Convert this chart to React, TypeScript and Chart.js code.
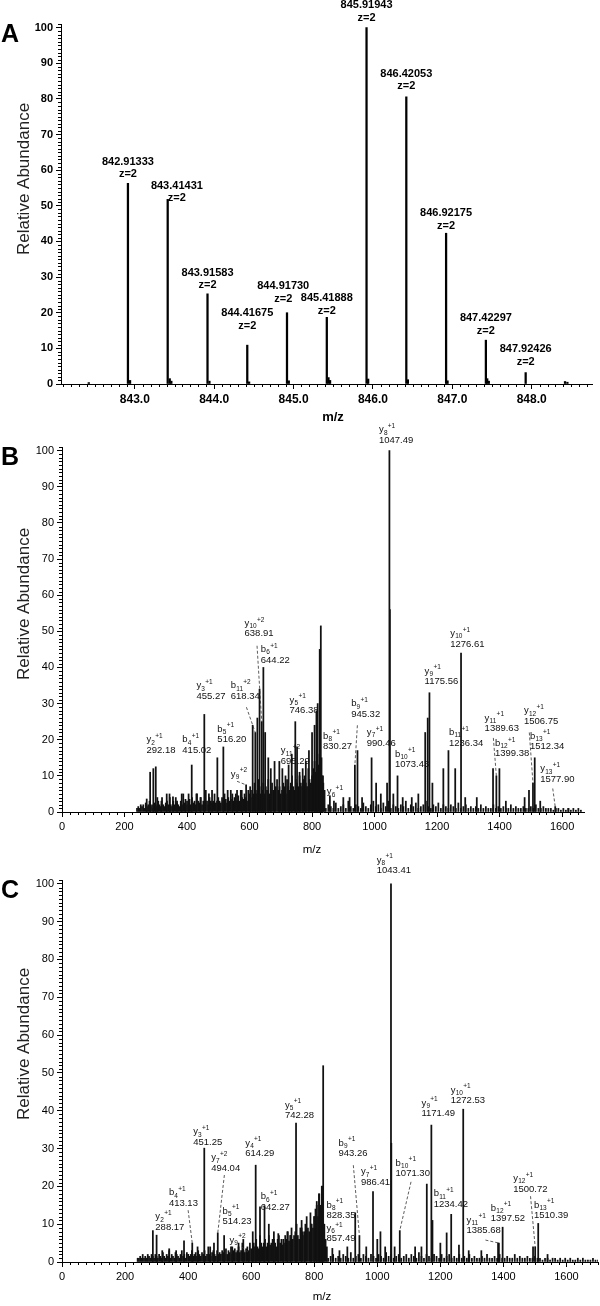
import React, { useEffect, useRef } from 'react';
import { Chart, registerables } from 'chart.js';

Chart.register(...registerables);

const W = 600;
const H = 1306;
const SANS = '"Liberation Sans", Arial, sans-serif';

// ================= Panel A : precursor isotope cluster =================
const A_PEAK_MZ = [842.91333, 843.41431, 843.91583, 844.41675, 844.9173, 845.41888, 845.91943, 846.42053, 846.92175, 847.42297, 847.92426];
const A_PEAK_ABUND = [56.3, 51.8, 25.3, 10.9, 20.0, 18.7, 100, 80.6, 42.3, 12.3, 3.2];
const A_CHARGE = 'z=2';
// label anchor (centre of first text line), in data units
const A_LABEL_MZ = [842.91333, 843.53, 843.91583, 844.41675, 844.87, 845.41888, 845.91943, 846.42053, 846.92175, 847.42297, 847.92426];
const A_LABEL_ABUND = [62.4, 55.6, 31.2, 19.9, 27.5, 24.0, 106.3, 87.0, 47.9, 18.5, 9.8];
const A_MINOR_MZ = [842.42, 842.94, 843.44, 843.46, 843.94, 844.44, 844.94, 845.44, 845.46, 845.94, 846.44, 846.94, 847.44, 847.46, 848.42, 848.45];
const A_MINOR_ABUND = [0.4, 1.0, 1.5, 0.8, 0.8, 0.6, 0.9, 1.8, 1.0, 1.4, 1.2, 0.9, 1.5, 0.8, 0.7, 0.5];
const A_X_TICKS = [843, 844, 845, 846, 847, 848];
const Y_TICKS = [0, 10, 20, 30, 40, 50, 60, 70, 80, 90, 100];
const SPEC_X_TICKS = [0, 200, 400, 600, 800, 1000, 1200, 1400, 1600];

// ================= Panel B : MS/MS spectrum =================
const B_PEAK_MZ = [271, 282, 292.18, 300, 305, 318, 335, 345, 355, 368, 383, 395, 405, 415.02, 430, 443, 455.27, 470, 480, 497, 516.2, 530, 545, 560, 575, 589, 602, 610, 618.34, 625, 632, 638.91, 644.22, 650, 660, 668, 680, 695.29, 705, 715, 725, 735, 746.38, 752, 760, 770, 780, 790, 800, 808, 814, 818, 824.5, 828, 830.27, 835, 857, 870, 900, 920, 937, 945.32, 960, 990.46, 1005, 1020, 1040, 1047.49, 1049, 1060, 1073.43, 1090, 1119, 1140, 1162, 1170, 1175.56, 1185, 1220, 1236.34, 1258, 1276.61, 1290, 1327, 1379, 1389.63, 1399.38, 1420, 1480, 1494, 1506.75, 1512.34, 1530, 1577.9, 1620];
const B_PEAK_ABUND = [3.6, 11, 12, 12.5, 4, 3, 5, 4, 4.2, 3, 5, 3.5, 5, 13, 5, 4, 27, 5, 6, 15, 18, 6, 5, 6, 6, 7.5, 7, 24, 22, 26, 34, 25, 40, 22, 15, 12, 14, 14, 12, 10, 13, 16, 25, 18, 10, 12, 14, 17, 22, 24, 28, 30, 45, 51.5, 15, 10, 4.5, 3, 4, 4, 13, 17, 4, 15, 8, 5, 8, 100, 56, 5, 10, 4, 4, 5, 22, 26, 33, 8, 12, 17, 12, 44, 4, 4, 12, 10, 12, 3, 4, 6, 8, 15, 3, 1.5, 1];
const B_NOISE_LOW_START = 240;
const B_NOISE_LOW_STEP = 4;
const B_NOISE_LOW = [
  1, 1.5, 1, 2, 1.5, 2, 1, 2.5, 1.5, 2, 3, 1.5, 2, 1, 2.5, 2,
  1.5, 3, 2, 1.5, 4, 2, 1.5, 2.5, 3, 2, 5, 2, 1.5, 3, 2, 4, 2.5, 2, 1.5, 3, 2, 5, 2.5, 2, 3,
  2, 3.5, 2, 4, 2.5, 3, 2, 5, 3, 2.5, 4, 2, 3, 2.5, 6, 3, 2, 4, 3, 2.5, 3, 5, 2.5, 3, 4,
  3, 2.5, 4, 3, 5, 3.5, 2.5, 4, 3, 6, 3.5, 3, 4, 5, 3, 4.5, 3, 6, 4, 3.5, 5, 4, 3, 6, 5,
  4, 6, 5, 8, 6, 5, 9, 7, 5, 6, 8, 5, 7, 6, 9, 5, 6, 8, 6, 5, 7, 9, 6, 7, 5,
  6, 8, 7, 5, 9, 7, 6, 8, 10, 7, 6, 9, 8, 7, 11, 8, 7, 9, 10, 8, 7, 12, 9, 8, 10,
  12, 14, 11, 15, 13, 16, 12, 10, 8, 6,
];
const B_NOISE_HIGH_START = 844;
const B_NOISE_HIGH_STEP = 8;
const B_NOISE_HIGH = [
  1, 2, 1.5, 1, 2.5, 1, 1.5, 2, 1, 3,
  1.5, 1, 2, 1.5, 1, 2.5, 1.5, 1, 2, 3,
  1.5, 2, 1, 2.5, 1.5, 3, 1, 2, 1.5, 1,
  2, 1.5, 3, 1, 2, 1.5, 2.5, 1, 1.5, 2,
  3, 1.5, 1, 2, 1.5, 2.5, 1, 2, 1.5, 1,
  2, 1.5, 1, 2.5, 1, 1.5, 2, 1, 1.5, 1,
  1.5, 1, 2, 1, 1.5, 1, 1, 2, 1, 1.5,
  1, 1.5, 1, 1, 2, 1, 1.5, 1, 1, 1.5,
  1, 1, 1.5, 1, 2, 1, 1, 1.5, 1, 1,
  1, 0.5, 1, 1, 0.5, 1, 0.5, 1, 0.5, 1,
  0.5, 1, 0.5,
];
const B_ION = ['y', 'b', 'y', 'b', 'y', 'b', 'y', 'b', 'y', 'y', 'b', 'y', 'b', 'y', 'y', 'b', 'y', 'b', 'y', 'y', 'b', 'y', 'b', 'y'];
const B_ION_SUB = ['2', '4', '3', '5', '9', '11', '10', '6', '11', '5', '8', '6', '9', '7', '8', '10', '9', '11', '10', '11', '12', '12', '13', '13'];
const B_ION_CHG = ['+1', '+1', '+1', '+1', '+2', '+2', '+2', '+1', '+2', '+1', '+1', '+1', '+1', '+1', '+1', '+1', '+1', '+1', '+1', '+1', '+1', '+1', '+1', '+1'];
const B_ION_MASS = ['292.18', '415.02', '455.27', '516.20', '', '618.34', '638.91', '644.22', '695.29', '746.38', '830.27', '', '945.32', '990.46', '1047.49', '1073.43', '1175.56', '1236.34', '1276.61', '1389.63', '1399.38', '1506.75', '1512.34', '1577.90'];
const B_ION_LABEL_MZ = [270, 385, 430, 497, 540, 540, 584, 636, 700, 728, 835, 847, 925, 975, 1014, 1065, 1160, 1238, 1242, 1352, 1385, 1478, 1497, 1530];
const B_ION_LABEL_ABUND = [20, 20, 35, 23, 10.5, 35, 52.2, 45, 17, 31, 21, 5.6, 30, 22, 105.8, 16, 39, 22, 49.4, 26, 19, 28, 21, 12];
// dashed leaders: [from m/z, from abundance, to m/z, to abundance]
const B_LEADERS = [
  [560, 8.5, 589, 7.5],
  [590, 29, 618.34, 22],
  [624, 46, 638.91, 25],
  [945, 24, 937, 13],
  [1380, 20.5, 1389.63, 10],
  [1495, 22, 1506.75, 8],
  [1570, 6.5, 1577.9, 1.5],
];

// ================= Panel C : MS/MS spectrum =================
const C_PEAK_MZ = [288.17, 300, 318, 340, 362, 387, 413.13, 430, 451.25, 470, 482, 494.04, 514.23, 540, 560, 575, 592, 605, 614.29, 628, 642.27, 656, 672, 686, 702, 715, 725, 742.28, 760, 770, 790, 800, 808, 815, 820, 825, 828.35, 857.49, 880, 905, 930, 943.26, 965, 986.41, 1000, 1010, 1025, 1043.41, 1044.5, 1055, 1071.3, 1120, 1140, 1157, 1171.49, 1175, 1200, 1220, 1234.42, 1259, 1272.53, 1290, 1330, 1383, 1385.68, 1397.52, 1494, 1500.72, 1510.39, 1540];
const C_PEAK_ABUND = [8.3, 7.1, 3, 3.5, 3, 5.6, 5, 4, 30.1, 4, 5, 7.7, 7, 4, 5, 6, 2.5, 8, 25.6, 14.6, 14.9, 10, 6, 7.5, 6, 8, 7, 36.7, 9, 8, 10, 12, 15, 18, 14, 20.1, 51.9, 3.6, 3, 4, 13, 7, 4, 18.6, 6, 8, 4, 100, 31.4, 4, 8.3, 4, 4, 20.6, 36.2, 11, 5, 7.7, 12.6, 4.5, 40.4, 3, 3, 5, 5, 9.2, 4, 4, 10.2, 2];
const C_NOISE_LOW_START = 240;
const C_NOISE_LOW_STEP = 4;
const C_NOISE_LOW = [
  1, 1, 1.5, 1, 2, 1, 1.5, 1, 2, 1.5, 1, 2, 1.5, 1, 2, 1.5,
  1, 2, 1.5, 1, 2.5, 1.5, 1, 2, 1.5, 3, 1, 2, 1.5, 1, 2.5, 2, 1.5, 1, 2, 3, 1.5, 2, 1, 2.5, 2,
  1.5, 2, 3, 1.5, 2, 2.5, 1.5, 3, 2, 1.5, 2.5, 2, 3, 1.5, 2, 4, 2, 1.5, 2.5, 3, 2, 1.5, 3, 2, 2.5,
  2, 3, 2.5, 2, 3.5, 2, 3, 2.5, 4, 2, 3, 3.5, 2.5, 3, 4, 2.5, 3, 5, 3, 2.5, 3.5, 4, 3, 5, 3.5,
  3, 5, 4, 6, 4, 3.5, 7, 5, 4, 5, 6, 4, 5, 7, 4.5, 5, 6, 8, 5, 4, 6, 7, 5, 6, 4.5,
  5, 7, 6, 8, 5.5, 7, 9, 6, 7, 8, 10, 7, 6, 9, 11, 8, 7, 10, 12, 9, 8, 13, 10, 9, 12,
  14, 16, 12, 18, 15, 20, 13, 10, 6, 4,
];
const C_NOISE_HIGH_START = 844;
const C_NOISE_HIGH_STEP = 8;
const C_NOISE_HIGH = [
  1, 1.5, 2, 1, 1.5, 1, 2, 1.5, 1, 2.5,
  1, 1.5, 2, 1, 2, 1.5, 1, 2, 1.5, 1,
  2, 1.5, 1, 2.5, 1.5, 2, 1, 1.5, 2, 1,
  1.5, 2, 1, 2, 1.5, 1, 2.5, 1.5, 1, 2,
  1.5, 1, 2, 1.5, 1, 2, 1, 1.5, 2, 1,
  1.5, 1, 2, 1, 1.5, 1, 2, 1, 1.5, 1,
  1, 1.5, 1, 2, 1, 1, 1.5, 1, 2, 1,
  1, 1.5, 1, 1, 2, 1, 1.5, 1, 1, 1.5,
  1, 1, 1.5, 1, 1, 0.5, 1, 1, 0.5, 1,
  1, 0.5, 1, 0.5, 1, 0.5, 1, 0.5, 0.5, 1,
  0.5, 1, 0.5, 0.5, 0.5, 1, 0.5, 0.5,
];
const C_ION = ['y', 'b', 'y', 'y', 'b', 'y', 'y', 'b', 'y', 'b', 'y', 'b', 'y', 'y', 'b', 'y', 'y', 'b', 'y', 'b', 'y', 'b'];
const C_ION_SUB = ['2', '4', '3', '7', '5', '9', '4', '6', '5', '8', '6', '9', '7', '8', '10', '9', '10', '11', '11', '12', '12', '13'];
const C_ION_CHG = ['+1', '+1', '+1', '+2', '+1', '+2', '+1', '+1', '+1', '+1', '+1', '+1', '+1', '+1', '+1', '+1', '+1', '+1', '+1', '+1', '+1', '+1'];
const C_ION_MASS = ['288.17', '413.13', '451.25', '494.04', '514.23', '', '614.29', '642.27', '742.28', '828.35', '857.49', '943.26', '986.41', '1043.41', '1071.30', '1171.49', '1272.53', '1234.42', '1385.68', '1397.52', '1500.72', '1510.39'];
const C_ION_LABEL_MZ = [296, 339, 416, 473, 509, 531, 581, 630, 707, 838.6, 838.6, 877, 948, 998, 1058, 1140, 1233, 1179, 1283, 1360, 1431, 1497];
const C_ION_LABEL_ABUND = [12.0, 18.3, 34.5, 27.6, 13.5, 5.8, 31.4, 17.3, 41.5, 15.1, 8.9, 31.4, 23.9, 106.3, 26.1, 42.0, 45.5, 18.1, 11.1, 14.2, 22.1, 15.1];
const C_LEADERS = [
  [400, 13.7, 413.13, 5],
  [515, 23, 494.04, 7.7],
  [570, 4, 592, 2.5],
  [924, 25.6, 943.26, 7],
  [1107, 21.2, 1071.3, 8.3],
  [1343, 5.8, 1385.68, 5],
  [1486, 17.4, 1500.72, 4],
];

// ================= helpers =================
type Pt = { x: number; y: number };
const toBars = (mz: number[], ab: number[]): Pt[] => mz.map((x, i) => ({ x, y: ab[i] }));
const gridBars = (start: number, step: number, ab: number[]): Pt[] => ab.map((y, i) => ({ x: start + i * step, y }));

type Ctx = CanvasRenderingContext2D;
type Fn = (v: number) => number;

function drawIonLabel(ctx: Ctx, x: number, y: number, ion: string, sub: string, chg: string, mass: string) {
  ctx.fillStyle = '#111';
  ctx.textAlign = 'left';
  ctx.textBaseline = 'middle';
  ctx.font = `9.5px ${SANS}`;
  ctx.fillText(ion, x, y);
  const w1 = ctx.measureText(ion).width;
  ctx.font = `6.5px ${SANS}`;
  ctx.fillText(sub, x + w1 + 0.2, y + 3.2);
  const w2 = ctx.measureText(sub).width;
  ctx.fillText(chg, x + w1 + w2 + 0.5, y - 3.6);
  if (mass) {
    ctx.font = `9.5px ${SANS}`;
    ctx.fillText(mass, x, y + 10.5);
  }
}

function drawLeaders(ctx: Ctx, sx: Fn, sy: Fn, leaders: number[][]) {
  ctx.save();
  ctx.setLineDash([3, 2]);
  ctx.strokeStyle = '#333';
  ctx.lineWidth = 0.8;
  for (const [fx, fy, tx, ty] of leaders) {
    ctx.beginPath();
    ctx.moveTo(sx(fx), sy(fy));
    ctx.lineTo(sx(tx), sy(ty));
    ctx.stroke();
  }
  ctx.restore();
}

function ionDrawer(ion: string[], sub: string[], chg: string[], mass: string[], lx: number[], ly: number[], leaders: number[][]) {
  return (ctx: Ctx, sx: Fn, sy: Fn) => {
    drawLeaders(ctx, sx, sy, leaders);
    for (let i = 0; i < ion.length; i++) {
      drawIonLabel(ctx, sx(lx[i]), sy(ly[i]), ion[i], sub[i], chg[i], mass[i]);
    }
  };
}

type PanelSpec = {
  letter: string;
  letterBaseline: number;
  left: number; right: number; top: number; bottom: number;
  axisH: number;
  xMin: number; xMax: number; yMax: number;
  xTicks: number[]; yTicks: number[];
  xTickFmt: (v: number) => string;
  xMinorStep: number; yMinorStep: number;
  yTickFont: any; xTickFont: any;
  yTitleCenter: number;
  yTitleFont: string;
  xTitleFont: string; xTitleX: number; xTitleY: number;
  bars: Pt[];
  barThickness: number;
  barColor: string;
  drawAnnotations: (ctx: Ctx, sx: Fn, sy: Fn) => void;
};

const PANEL_A: PanelSpec = {
  letter: 'A', letterBaseline: 42,
  left: 61, right: 592, top: 24, bottom: 384, axisH: 30,
  xMin: 842.07, xMax: 848.76, yMax: 101,
  xTicks: A_X_TICKS, yTicks: Y_TICKS,
  xTickFmt: (v) => v.toFixed(1),
  xMinorStep: 0.1, yMinorStep: 1,
  yTickFont: { family: 'Liberation Sans', size: 11, weight: 'bold' },
  xTickFont: { family: 'Liberation Sans', size: 12, weight: 'bold' },
  yTitleCenter: 179,
  yTitleFont: `17px ${SANS}`,
  xTitleFont: `bold 13px ${SANS}`, xTitleX: 333, xTitleY: 417,
  bars: [...toBars(A_PEAK_MZ, A_PEAK_ABUND), ...toBars(A_MINOR_MZ, A_MINOR_ABUND)],
  barThickness: 1.6,
  barColor: '#000',
  drawAnnotations: (ctx, sx, sy) => {
    ctx.fillStyle = '#000';
    ctx.textAlign = 'center';
    ctx.textBaseline = 'middle';
    ctx.font = `bold 11px ${SANS}`;
    for (let i = 0; i < A_PEAK_MZ.length; i++) {
      const x = sx(A_LABEL_MZ[i]);
      const y = sy(A_LABEL_ABUND[i]);
      ctx.fillText(A_PEAK_MZ[i].toFixed(5), x, y);
      ctx.fillText(A_CHARGE, x, y + 12.5);
    }
  },
};

const PANEL_B: PanelSpec = {
  letter: 'B', letterBaseline: 465,
  left: 62, right: 584, top: 447, bottom: 812, axisH: 30,
  xMin: 0, xMax: 1670, yMax: 101,
  xTicks: SPEC_X_TICKS, yTicks: Y_TICKS,
  xTickFmt: (v) => String(v),
  xMinorStep: 25, yMinorStep: 1,
  yTickFont: { family: 'Liberation Sans', size: 11 },
  xTickFont: { family: 'Liberation Sans', size: 11 },
  yTitleCenter: 604,
  yTitleFont: `17px ${SANS}`,
  xTitleFont: `11.5px ${SANS}`, xTitleX: 312, xTitleY: 850,
  bars: [
    ...gridBars(B_NOISE_LOW_START, B_NOISE_LOW_STEP, B_NOISE_LOW),
    ...gridBars(B_NOISE_HIGH_START, B_NOISE_HIGH_STEP, B_NOISE_HIGH),
    ...toBars(B_PEAK_MZ, B_PEAK_ABUND),
  ],
  barThickness: 1.1,
  barColor: '#111',
  drawAnnotations: ionDrawer(B_ION, B_ION_SUB, B_ION_CHG, B_ION_MASS, B_ION_LABEL_MZ, B_ION_LABEL_ABUND, B_LEADERS),
};

const PANEL_C: PanelSpec = {
  letter: 'C', letterBaseline: 898,
  left: 62, right: 598, top: 880, bottom: 1262, axisH: 30,
  xMin: 0, xMax: 1700, yMax: 101,
  xTicks: SPEC_X_TICKS, yTicks: Y_TICKS,
  xTickFmt: (v) => String(v),
  xMinorStep: 25, yMinorStep: 1,
  yTickFont: { family: 'Liberation Sans', size: 11 },
  xTickFont: { family: 'Liberation Sans', size: 11 },
  yTitleCenter: 1044,
  yTitleFont: `17px ${SANS}`,
  xTitleFont: `11.5px ${SANS}`, xTitleX: 322, xTitleY: 1297,
  bars: [
    ...gridBars(C_NOISE_LOW_START, C_NOISE_LOW_STEP, C_NOISE_LOW),
    ...gridBars(C_NOISE_HIGH_START, C_NOISE_HIGH_STEP, C_NOISE_HIGH),
    ...toBars(C_PEAK_MZ, C_PEAK_ABUND),
  ],
  barThickness: 1.1,
  barColor: '#111',
  drawAnnotations: ionDrawer(C_ION, C_ION_SUB, C_ION_CHG, C_ION_MASS, C_ION_LABEL_MZ, C_ION_LABEL_ABUND, C_LEADERS),
};

function decorPlugin(p: PanelSpec) {
  return {
    id: 'decor' + p.letter,
    afterDraw(chart: any) {
      const ctx: Ctx = chart.ctx;
      const xs = chart.scales.x;
      const ys = chart.scales.y;
      const area = chart.chartArea;
      const sx = (v: number) => xs.getPixelForValue(v);
      const sy = (v: number) => ys.getPixelForValue(v);
      ctx.save();
      // minor ticks
      ctx.strokeStyle = '#000';
      ctx.lineWidth = 1;
      ctx.beginPath();
      const yn1 = Math.floor(p.yMax / p.yMinorStep + 1e-9);
      for (let n = 0; n <= yn1; n++) {
        const v = n * p.yMinorStep;
        if (p.yTicks.some((t) => Math.abs(t - v) < 1e-6)) continue;
        const py = Math.round(sy(v)) + 0.5;
        ctx.moveTo(area.left - 3, py);
        ctx.lineTo(area.left, py);
      }
      const xn0 = Math.ceil(p.xMin / p.xMinorStep - 1e-9);
      const xn1 = Math.floor(p.xMax / p.xMinorStep + 1e-9);
      for (let n = xn0; n <= xn1; n++) {
        const v = n * p.xMinorStep;
        if (p.xTicks.some((t) => Math.abs(t - v) < 1e-6)) continue;
        const px = Math.round(sx(v)) + 0.5;
        ctx.moveTo(px, area.bottom);
        ctx.lineTo(px, area.bottom + 3);
      }
      ctx.stroke();

      // annotations
      p.drawAnnotations(ctx, sx, sy);

      // panel letter
      ctx.fillStyle = '#000';
      ctx.textAlign = 'left';
      ctx.textBaseline = 'alphabetic';
      ctx.font = `bold 25px ${SANS}`;
      ctx.fillText(p.letter, 1, p.letterBaseline);

      // y title
      ctx.save();
      ctx.translate(24, p.yTitleCenter);
      ctx.rotate(-Math.PI / 2);
      ctx.textAlign = 'center';
      ctx.textBaseline = 'middle';
      ctx.font = p.yTitleFont;
      ctx.fillStyle = '#222';
      ctx.fillText('Relative Abundance', 0, 0);
      ctx.restore();

      // x title
      ctx.textAlign = 'center';
      ctx.textBaseline = 'middle';
      ctx.font = p.xTitleFont;
      ctx.fillStyle = '#000';
      ctx.fillText('m/z', p.xTitleX, p.xTitleY);
      ctx.restore();
    },
  };
}

function buildConfig(p: PanelSpec): any {
  return {
    type: 'bar',
    data: {
      datasets: [
        {
          data: p.bars,
          backgroundColor: p.barColor,
          borderWidth: 0,
          barThickness: p.barThickness,
          grouped: false,
        },
      ],
    },
    options: {
      responsive: false,
      maintainAspectRatio: false,
      animation: false,
      events: [],
      layout: {
        padding: { left: 0, top: p.top, right: W - p.right, bottom: H - p.bottom - p.axisH },
      },
      plugins: { legend: { display: false }, tooltip: { enabled: false }, title: { display: false } },
      scales: {
        x: {
          type: 'linear',
          min: p.xMin,
          max: p.xMax,
          offset: false,
          afterBuildTicks: (s: any) => { s.ticks = p.xTicks.map((v) => ({ value: v })); },
          afterFit: (s: any) => { s.height = p.axisH; },
          grid: { display: true, drawOnChartArea: false, drawTicks: true, tickLength: 5, tickColor: '#000', tickWidth: 1, offset: false },
          border: { display: true, color: '#000', width: 1 },
          ticks: {
            color: '#000',
            font: p.xTickFont,
            padding: 3,
            maxRotation: 0,
            autoSkip: false,
            callback: (v: any) => p.xTickFmt(Number(v)),
          },
        },
        y: {
          type: 'linear',
          min: 0,
          max: p.yMax,
          afterBuildTicks: (s: any) => { s.ticks = p.yTicks.map((v) => ({ value: v })); },
          afterFit: (s: any) => { s.width = p.left; },
          grid: { display: true, drawOnChartArea: false, drawTicks: true, tickLength: 5, tickColor: '#000', tickWidth: 1 },
          border: { display: true, color: '#000', width: 1 },
          ticks: {
            color: '#000',
            font: p.yTickFont,
            padding: 3,
            autoSkip: false,
            callback: (v: any) => String(v),
          },
        },
      },
    },
    plugins: [decorPlugin(p)],
  };
}

function SpectrumPanel({ panel }: { panel: PanelSpec }) {
  const ref = useRef<HTMLCanvasElement>(null);
  useEffect(() => {
    if (!ref.current) return;
    const chart = new Chart(ref.current, buildConfig(panel));
    return () => chart.destroy();
  }, [panel]);
  return (
    <canvas
      ref={ref}
      width={W}
      height={H}
      style={{ position: 'absolute', left: 0, top: 0, width: W, height: H }}
    />
  );
}

export default function App() {
  return (
    <div style={{ position: 'absolute', left: 0, top: 0, width: W, height: H, background: '#fff', overflow: 'hidden' }}>
      <SpectrumPanel panel={PANEL_A} />
      <SpectrumPanel panel={PANEL_B} />
      <SpectrumPanel panel={PANEL_C} />
    </div>
  );
}
